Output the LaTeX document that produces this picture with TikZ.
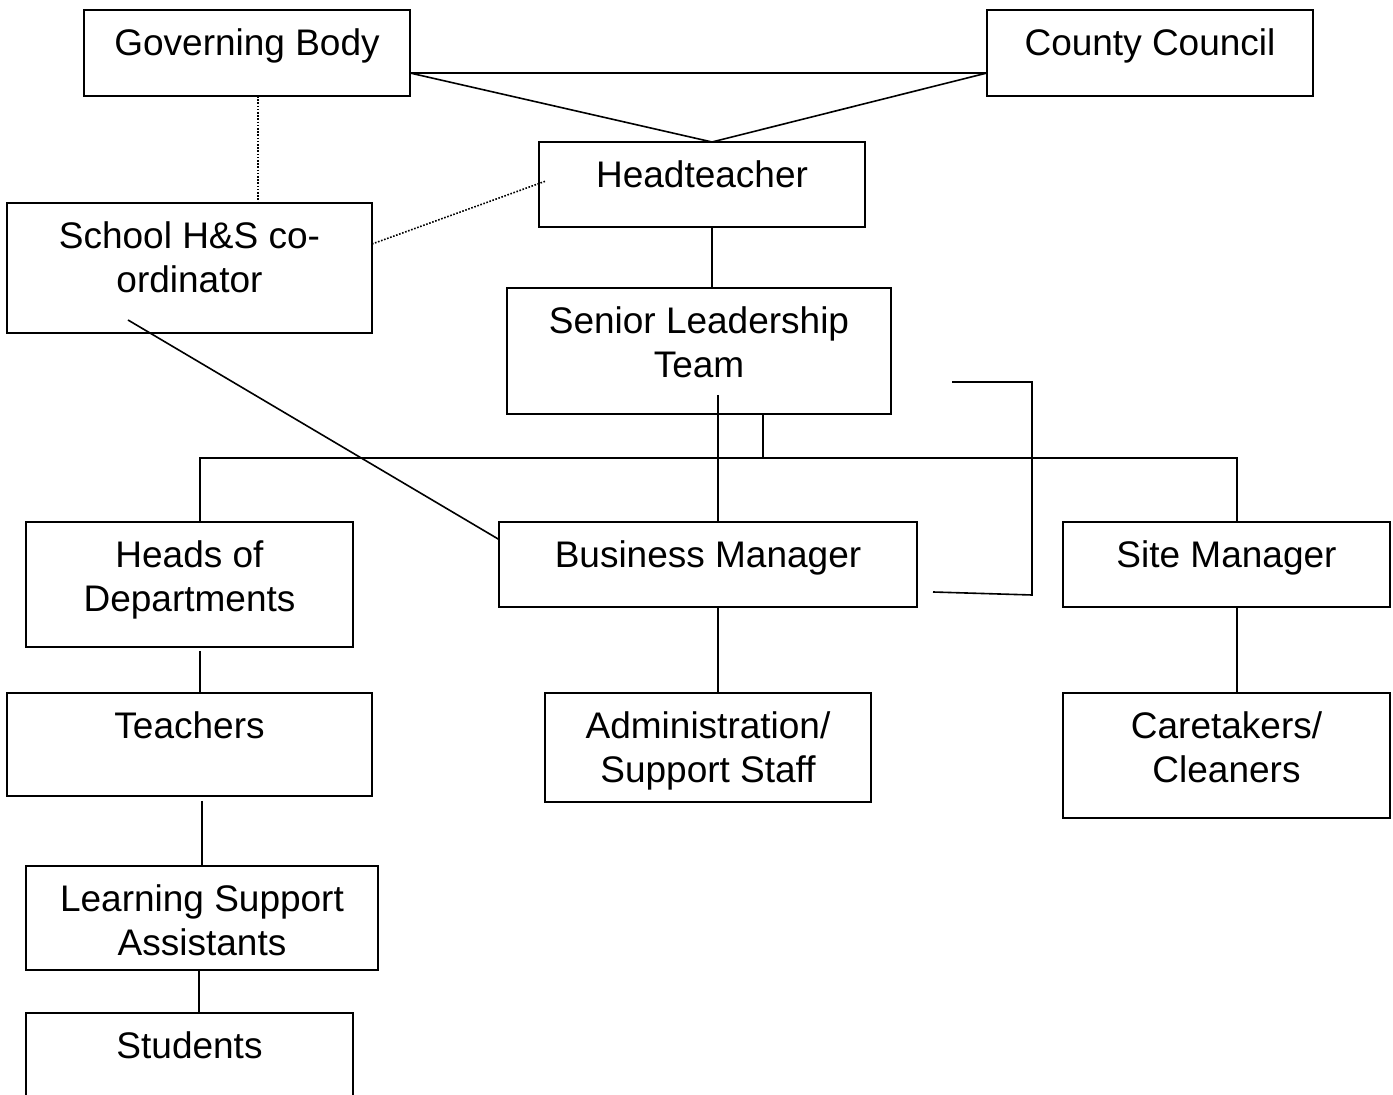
\documentclass[tikz,border=0pt]{standalone}
\usepackage{fontspec}
\setmainfont{Liberation Sans}
\usetikzlibrary{positioning}

\begin{document}
\begin{tikzpicture}[x=0.5pt, y=-0.5pt,
    orgbox/.style={rectangle, draw=black, line width=1pt, inner sep=0pt, outer sep=0pt},
    orgtext/.style={align=center, inner sep=0pt, font=\fontsize{18.5}{21.75}\selectfont},
    link/.style={line width=0.8pt},
    dotlink/.style={line width=0.8pt, dash pattern=on 0.8pt off 0.8pt}]

  \useasboundingbox (0,0) rectangle (1393,1095);

  \node[orgbox, minimum width=163pt, minimum height=43pt] (gb) at (247,53) {};
  \node[orgbox, minimum width=163pt, minimum height=43pt] (cc) at (1150,53) {};
  \node[orgbox, minimum width=163pt, minimum height=42.5pt] (ht) at (702,184.5) {};
  \node[orgbox, minimum width=182.5pt, minimum height=65pt] (hs) at (189.5,268) {};
  \node[orgbox, minimum width=192pt, minimum height=63pt] (slt) at (699,351) {};
  \node[orgbox, minimum width=163.5pt, minimum height=62.5pt] (hod) at (189.5,584.5) {};
  \node[orgbox, minimum width=209pt, minimum height=42.5pt] (bm) at (708,564.5) {};
  \node[orgbox, minimum width=163.5pt, minimum height=42.5pt] (sm) at (1226.5,564.5) {};
  \node[orgbox, minimum width=182.5pt, minimum height=51.5pt] (tea) at (189.5,744.5) {};
  \node[orgbox, minimum width=163pt, minimum height=54.5pt] (adm) at (708,747.5) {};
  \node[orgbox, minimum width=163.5pt, minimum height=62.5pt] (ct) at (1226.5,755.5) {};
  \node[orgbox, minimum width=176pt, minimum height=52pt] (lsa) at (202,918) {};
  \node[orgbox, minimum width=163.5pt, minimum height=55pt] (stu) at (189.5,1068) {};

  % texts sit at the top of each box
  \node[orgtext, below=9.25pt of gb.north] (gbt) {Governing Body};
  \node[orgtext, below=9.25pt of cc.north] (cct) {County Council};
  \node[orgtext, below=9.25pt of ht.north] (htt) {Headteacher};
  \node[orgtext, below=9.25pt of hs.north] (hst) {School H\&S co-\\ordinator};
  \node[orgtext, below=9.25pt of slt.north] (sltt) {Senior Leadership\\Team};
  \node[orgtext, below=9.25pt of hod.north] (hodt) {Heads of\\Departments};
  \node[orgtext, below=9.25pt of bm.north] (bmt) {Business Manager};
  \node[orgtext, below=9.25pt of sm.north] (smt) {Site Manager};
  \node[orgtext, below=9.25pt of tea.north] (teat) {Teachers};
  \node[orgtext, below=9.25pt of adm.north] (admt) {Administration/\\Support Staff};
  \node[orgtext, below=9.25pt of ct.north] (ctt) {Caretakers/\\Cleaners};
  \node[orgtext, below=9.25pt of lsa.north] (lsat) {Learning Support\\Assistants};
  \node[orgtext, below=9.25pt of stu.north] (stut) {Students};

  \coordinate (bus) at (763,458);
  \coordinate (brtop) at (952,382);
  \coordinate (brcorner) at (1032,595);
  \coordinate (brbot) at (933,592);

  \draw[link] ([yshift=-10pt]gb.east) -- ([yshift=-10pt]cc.west);
  \draw[link] ([yshift=-10pt]gb.east) -- ([xshift=5pt]ht.north) -- ([yshift=-10pt]cc.west);
  \draw[dotlink] ([xshift=5.5pt]gb.south) -- ([xshift=5.5pt]gb.south |- hs.north);
  \draw[dotlink] ([yshift=12pt]hs.east) -- ([xshift=3.5pt,yshift=1.75pt]ht.west);
  \draw[link] ([xshift=5pt]ht.south) -- ([xshift=5pt]ht.south |- slt.north);
  \draw[link] ([xshift=9.5pt,yshift=9.5pt]slt.south) -- ([xshift=5pt]bm.north);
  \draw[link] (slt.south -| bus) -- (bus);
  \draw[link] ([xshift=5.25pt]hod.north) |- (bus) -| ([xshift=5.25pt]sm.north);
  \draw[link] (brtop) -| (brcorner) -- (brbot);
  \draw[link] ([xshift=-30.75pt,yshift=6.5pt]hs.south) -- ([yshift=12.5pt]bm.west);
  \draw[link] ([xshift=5.25pt,yshift=-2pt]hod.south) -- ([xshift=5.25pt]hod.south |- tea.north);
  \draw[link] ([xshift=6.25pt,yshift=-2.5pt]tea.south) -- (lsa.north);
  \draw[link] ([xshift=-1.5pt]lsa.south) -- ([xshift=-1.5pt]lsa.south |- stu.north);
  \draw[link] ([xshift=5pt]bm.south) -- ([xshift=5pt]bm.south |- adm.north);
  \draw[link] ([xshift=5.25pt]sm.south) -- ([xshift=5.25pt]sm.south |- ct.north);
\end{tikzpicture}
\end{document}
